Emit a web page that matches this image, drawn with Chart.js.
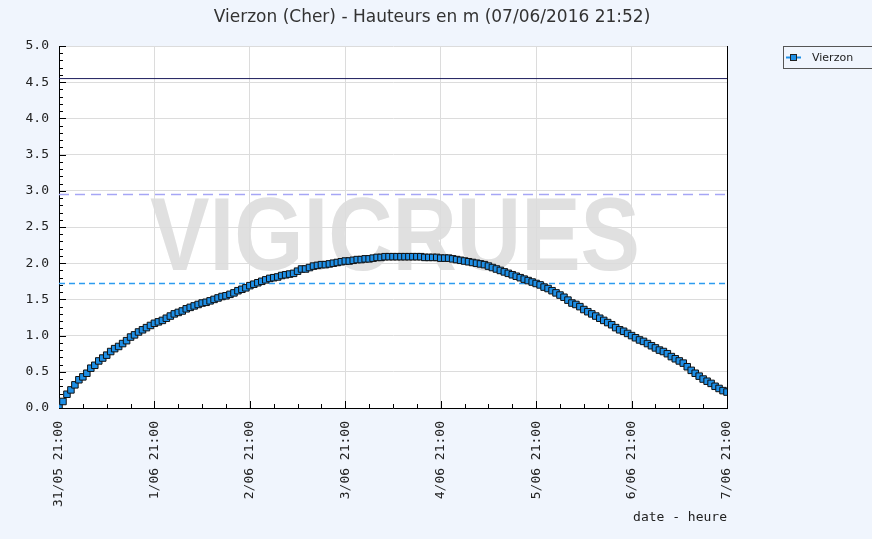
<!DOCTYPE html>
<html>
<head>
<meta charset="utf-8">
<script src="https://cdn.jsdelivr.net/npm/chart.js@4/dist/chart.umd.min.js"></script>
<style>
  html, body { margin: 0; padding: 0; background: #f0f5fd; }
</style>
</head>
<body>
<canvas id="myChart" width="872" height="539"></canvas>
<script>
var titleText = "Vierzon (Cher) - Hauteurs en m (07/06/2016 21:52)";
var seriesName = "Vierzon";
var xAxisTitle = "date - heure";
var xTickLabels = ["31/05 21:00", "1/06 21:00", "2/06 21:00", "3/06 21:00", "4/06 21:00", "5/06 21:00", "6/06 21:00", "7/06 21:00"];
// one value per hour, from 31/05 21:00 to 7/06 21:00
var hauteurs = [
    0.02, 0.09, 0.19, 0.25, 0.32, 0.39, 0.43, 0.48, 0.55, 0.59,
    0.65, 0.69, 0.73, 0.78, 0.82, 0.85, 0.89, 0.93, 0.98, 1.01,
    1.05, 1.08, 1.11, 1.14, 1.17, 1.19, 1.21, 1.24, 1.27, 1.30,
    1.32, 1.34, 1.37, 1.39, 1.41, 1.43, 1.45, 1.46, 1.48, 1.50,
    1.52, 1.54, 1.55, 1.57, 1.59, 1.62, 1.64, 1.66, 1.69, 1.71,
    1.73, 1.75, 1.77, 1.79, 1.80, 1.81, 1.83, 1.84, 1.85, 1.86,
    1.89, 1.92, 1.92, 1.94, 1.96, 1.97, 1.98, 1.98, 1.99, 2.00,
    2.01, 2.02, 2.03, 2.03, 2.04, 2.05, 2.05, 2.06, 2.06, 2.07,
    2.08, 2.08, 2.09, 2.09, 2.09, 2.09, 2.09, 2.09, 2.09, 2.09,
    2.09, 2.09, 2.08, 2.08, 2.08, 2.08, 2.07, 2.07, 2.07, 2.06,
    2.05, 2.04, 2.03, 2.02, 2.01, 2.00, 1.99, 1.98, 1.96, 1.94,
    1.92, 1.90, 1.88, 1.86, 1.84, 1.82, 1.80, 1.78, 1.76, 1.74,
    1.72, 1.70, 1.67, 1.65, 1.62, 1.59, 1.56, 1.53, 1.49, 1.45,
    1.43, 1.40, 1.36, 1.33, 1.30, 1.27, 1.24, 1.21, 1.18, 1.15,
    1.11, 1.08, 1.06, 1.03, 1.00, 0.97, 0.94, 0.92, 0.89, 0.86,
    0.83, 0.80, 0.78, 0.75, 0.71, 0.68, 0.65, 0.62, 0.57, 0.52,
    0.48, 0.44, 0.40, 0.37, 0.34, 0.30, 0.27, 0.24, 0.22
];
var seuils = [4.55, 2.95, 1.72];
var heuresParJour = 24;

var points = hauteurs.map(function(v, i) { return { x: i, y: v }; });
var lastHour = hauteurs.length - 1;
var seuilLine = function(v) { return [{ x: 0, y: v }, { x: lastHour, y: v }]; };

var monoFont = "'DejaVu Sans Mono', monospace";

var decorPlugin = {
    id: 'decor',
    beforeDraw: function(chart) {
        var ctx = chart.ctx, a = chart.chartArea;
        ctx.save();
        ctx.fillStyle = '#f0f5fd';
        ctx.fillRect(0, 0, chart.width, chart.height);
        ctx.fillStyle = '#ffffff';
        ctx.fillRect(a.left, a.top, a.right - a.left, a.bottom - a.top);
        // watermark
        ctx.font = "bold 104px 'Liberation Sans', sans-serif";
        var w = ctx.measureText("VIGICRUES").width;
        ctx.translate(150, 270);
        ctx.scale(490 / w, 1);
        ctx.fillStyle = '#e0e0e0';
        ctx.textBaseline = 'alphabetic';
        ctx.fillText("VIGICRUES", 0, 0);
        ctx.restore();

        // title
        ctx.save();
        ctx.font = "17px 'DejaVu Sans', sans-serif";
        ctx.fillStyle = '#333';
        ctx.textAlign = 'center';
        ctx.textBaseline = 'middle';
        ctx.fillText(titleText, 432, 18);

        // legend
        ctx.strokeStyle = '#555';
        ctx.lineWidth = 1;
        ctx.strokeRect(783.5, 46.5, 100, 22);
        ctx.strokeStyle = '#1e8fe6';
        ctx.lineWidth = 2;
        ctx.beginPath();
        ctx.moveTo(786, 57.5);
        ctx.lineTo(801, 57.5);
        ctx.stroke();
        ctx.fillStyle = '#1e8fe6';
        ctx.fillRect(791, 55, 6, 5);
        ctx.strokeStyle = '#222';
        ctx.lineWidth = 1;
        ctx.strokeRect(790.5, 54.5, 6, 6);
        ctx.font = "11px 'DejaVu Sans', sans-serif";
        ctx.fillStyle = '#222';
        ctx.textAlign = 'left';
        ctx.fillText(seriesName, 812, 58);
        ctx.restore();
    },
    beforeDatasetsDraw: function(chart) {
        var ctx = chart.ctx, a = chart.chartArea;
        var xs = chart.scales.x, ys = chart.scales.y;
        ctx.save();
        ctx.strokeStyle = '#000';
        ctx.lineWidth = 1;
        ctx.beginPath();
        // right border
        ctx.moveTo(a.right + 0.5, a.top);
        ctx.lineTo(a.right + 0.5, a.bottom);
        // y ticks inside
        for (var i = 0; i <= 50; i++) {
            var py = Math.round(ys.getPixelForValue(i / 10)) + 0.5;
            var len = (i % 5 === 0) ? 7 : 4;
            ctx.moveTo(a.left, py);
            ctx.lineTo(a.left + len, py);
        }
        // x ticks inside, every 6 hours
        for (var h = 0; h <= lastHour; h += 6) {
            var px = Math.round(xs.getPixelForValue(h)) + 0.5;
            var l = (h % heuresParJour === 0) ? 7 : 4;
            ctx.moveTo(px, a.bottom);
            ctx.lineTo(px, a.bottom - l);
        }
        ctx.stroke();
        ctx.restore();
    }
};

var config = {
    type: 'line',
    data: {
        datasets: [{
            label: seriesName,
            data: points,
            borderColor: '#000',
            borderWidth: 1,
            pointStyle: 'rect',
            pointRadius: 4.6,
            pointBackgroundColor: '#1e8fe6',
            pointBorderColor: '#111',
            pointBorderWidth: 1,
            order: 0
        }, {
            data: seuilLine(seuils[0]),
            borderColor: '#1c1c5c',
            borderWidth: 1,
            pointRadius: 0,
            order: 1
        }, {
            data: seuilLine(seuils[1]),
            borderColor: '#a6a6f5',
            borderWidth: 1.5,
            borderDash: [10, 6],
            pointRadius: 0,
            order: 1
        }, {
            data: seuilLine(seuils[2]),
            borderColor: '#2c9cf0',
            borderWidth: 1.5,
            borderDash: [6, 4],
            pointRadius: 0,
            order: 1
        }]
    },
    options: {
        responsive: false,
        animation: false,
        layout: { padding: { left: 0, top: 46, right: 145, bottom: 0 } },
        plugins: {
            legend: { display: false },
            title: { display: false },
            tooltip: { enabled: false }
        },
        scales: {
            x: {
                type: 'linear',
                min: 0,
                max: lastHour,
                afterFit: function(s) { s.height = 131; },
                grid: { color: '#dcdcdc', drawTicks: false },
                border: { color: '#000', width: 1 },
                ticks: {
                    stepSize: heuresParJour,
                    autoSkip: false,
                    minRotation: 90,
                    maxRotation: 90,
                    padding: 13,
                    color: '#222',
                    font: { family: monoFont, size: 13 },
                    callback: function(v) { return xTickLabels[v / heuresParJour]; }
                },
                title: {
                    display: true,
                    text: xAxisTitle,
                    align: 'end',
                    color: '#222',
                    font: { family: monoFont, size: 13 },
                    padding: { top: 0, bottom: 14 }
                }
            },
            y: {
                min: 0,
                max: 5,
                afterFit: function(s) { s.width = 59; },
                grid: { color: '#dcdcdc', drawTicks: false },
                border: { color: '#000', width: 1 },
                ticks: {
                    stepSize: 0.5,
                    padding: 10,
                    color: '#222',
                    font: { family: monoFont, size: 13 },
                    callback: function(v) { return v.toFixed(1); }
                }
            }
        }
    },
    plugins: [decorPlugin]
};

var ctx = document.getElementById("myChart").getContext("2d");
window.myLine = new Chart(ctx, config);
</script>
</body>
</html>
